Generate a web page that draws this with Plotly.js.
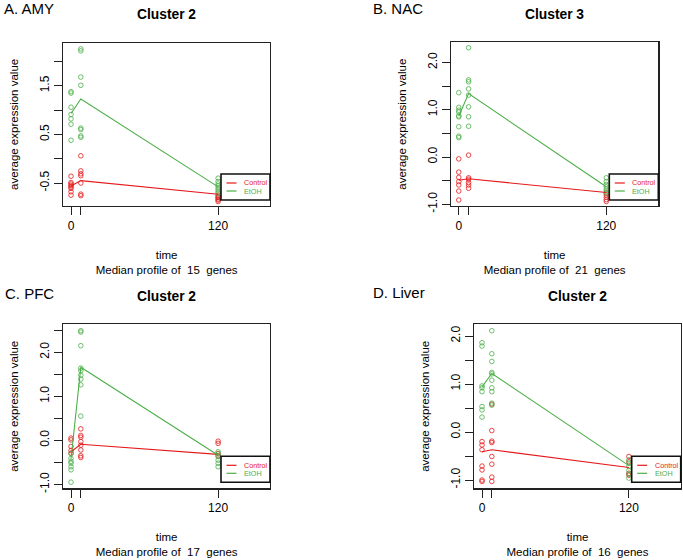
<!DOCTYPE html>
<html>
<head>
<meta charset="utf-8">
<script src="https://cdn.plot.ly/plotly-3.0.1.min.js"></script>
<style>html,body{margin:0;padding:0;background:#fff;}#chart{width:683px;height:560px;}</style>
</head>
<body>
<div id="chart"></div>
<script>
// ---------- data ----------
const timePoints = [0, 8, 120];
const timeTickText = ['0', '', '120'];
const seriesNames = ['Control', 'EtOH'];
const panelLabels = ['A. AMY', 'B. NAC', 'C. PFC', 'D. Liver'];
const clusterTitles = ['Cluster 2', 'Cluster 3', 'Cluster 2', 'Cluster 2'];
const geneCounts = [15, 21, 17, 16];

// A. AMY
const amyCtrl0 = [-0.36, -0.49, -0.52, -0.55, -0.58, -0.61, -0.68, -0.75];
const amyCtrl8 = [0.06, -0.25, -0.31, -0.35, -0.50, -0.73, -0.76];
const amyCtrl120 = [-0.75, -0.78, -0.80, -0.83, -0.85, -0.88];
const amyEtoh0 = [1.38, 1.35, 1.06, 0.91, 0.82, 0.71, 0.38];
const amyEtoh8 = [2.26, 2.22, 1.68, 1.51, 0.63, 0.60, 0.47, 0.44];
const amyEtoh120 = [-0.40, -0.47, -0.52, -0.56, -0.60, -0.64, -0.68, -0.71];
const amyCtrlMedian = [-0.56, -0.45, -0.73];
const amyEtohMedian = [0.93, 1.23, -0.58];

// B. NAC
const nacCtrl0 = [-0.04, -0.32, -0.43, -0.52, -0.59, -0.72, -0.91];
const nacCtrl8 = [0.04, -0.44, -0.47, -0.54, -0.59, -0.66];
const nacCtrl120 = [-0.76, -0.80, -0.85, -0.90, -0.94];
const nacEtoh0 = [1.36, 1.05, 0.99, 0.95, 0.87, 0.85, 0.64, 0.44, 0.41];
const nacEtoh8 = [2.31, 1.63, 1.59, 1.44, 1.31, 1.06, 0.85, 0.65];
const nacEtoh120 = [-0.44, -0.52, -0.58, -0.63, -0.68, -0.72, -0.76];
const nacCtrlMedian = [-0.49, -0.46, -0.75];
const nacEtohMedian = [0.86, 1.34, -0.63];

// C. PFC
const pfcCtrl0 = [0.05, 0.01, -0.14, -0.23, -0.29];
const pfcCtrl8 = [0.26, 0.11, 0.07, -0.03, -0.11, -0.22, -0.35, -0.39];
const pfcCtrl120 = [-0.02, -0.07, -0.30, -0.35];
const pfcEtoh0 = [-0.30, -0.41, -0.48, -0.52, -0.60, -0.67, -0.95];
const pfcEtoh8 = [2.49, 2.46, 2.15, 1.64, 1.58, 1.48, 1.39, 1.26, 0.55];
const pfcEtoh120 = [-0.26, -0.31, -0.37, -0.45, -0.52, -0.60];
const pfcCtrlMedian = [-0.26, -0.09, -0.32];
const pfcEtohMedian = [-0.42, 1.66, -0.34];

// D. Liver
const liverCtrl0 = [-0.20, -0.27, -0.37, -0.71, -0.79, -1.00, -1.03];
const liverCtrl8 = [0.58, 0.03, -0.19, -0.22, -0.51, -0.67, -0.94, -1.03];
const liverCtrl120 = [-0.51, -0.62, -0.86, -0.90];
const liverEtoh0 = [1.86, 1.79, 0.96, 0.92, 0.84, 0.53, 0.46, 0.31];
const liverEtoh8 = [2.11, 1.63, 1.47, 1.24, 1.21, 1.08, 0.92, 0.84, 0.60, 0.56];
const liverEtoh120 = [-0.58, -0.65, -0.72, -0.80, -0.88, -0.96];
const liverCtrlMedian = [-0.41, -0.37, -0.74];
const liverEtohMedian = [0.94, 1.22, -0.70];

// y tick values / labels
const yTicksA = [-0.5, 0, 0.5, 1, 1.5, 2];
const yTickTextA = ['-0.5', '', '0.5', '', '1.5', ''];
const yTicksB = [-1, -0.5, 0, 0.5, 1, 1.5, 2];
const yTickTextB = ['-1.0', '', '0.0', '', '1.0', '', '2.0'];
const yTicksC = [-1, -0.5, 0, 0.5, 1, 1.5, 2, 2.5];
const yTickTextC = ['-1.0', '', '0.0', '', '1.0', '', '2.0', ''];
const yTicksD = [-1, -0.5, 0, 0.5, 1, 1.5, 2];
const yTickTextD = ['-1.0', '', '0.0', '', '1.0', '', '2.0'];

// ---------- layout helpers ----------
const W = 683, H = 560;
const RED = '#E41A1C', GREEN = '#4DAF4A';
const fx = p => p / W;
const fy = p => 1 - p / H;

const panels = [
  {ctrl: [amyCtrl0, amyCtrl8, amyCtrl120], etoh: [amyEtoh0, amyEtoh8, amyEtoh120],
   ctrlMed: amyCtrlMedian, etohMed: amyEtohMedian, yt: yTicksA, ytt: yTickTextA,
   box: [63.3, 42.7, 270, 206], yr: [-0.973, 2.387], lab: [1.7, 8.5], ttl: 14},
  {ctrl: [nacCtrl0, nacCtrl8, nacCtrl120], etoh: [nacEtoh0, nacEtoh8, nacEtoh120],
   ctrlMed: nacCtrlMedian, etohMed: nacEtohMedian, yt: yTicksB, ytt: yTickTextB,
   box: [451, 42.3, 658.3, 206], yr: [-1.036, 2.425], lab: [370.7, 9], ttl: 14},
  {ctrl: [pfcCtrl0, pfcCtrl8, pfcCtrl120], etoh: [pfcEtoh0, pfcEtoh8, pfcEtoh120],
   ctrlMed: pfcCtrlMedian, etohMed: pfcEtohMedian, yt: yTicksC, ytt: yTickTextC,
   box: [63.3, 324.3, 270, 488.3], yr: [-1.09, 2.636], lab: [2.7, 293.3], ttl: 296},
  {ctrl: [liverCtrl0, liverCtrl8, liverCtrl120], etoh: [liverEtoh0, liverEtoh8, liverEtoh120],
   ctrlMed: liverCtrlMedian, etohMed: liverEtohMedian, yt: yTicksD, ytt: yTickTextD,
   box: [474.3, 324.3, 680.7, 488.3], yr: [-1.173, 2.244], lab: [370.7, 292.3], ttl: 296}
];

const traces = [];
const layout = {
  width: W, height: H,
  margin: {l: 0, r: 0, t: 0, b: 0},
  paper_bgcolor: '#fff', plot_bgcolor: '#fff',
  showlegend: false,
  font: {family: 'Liberation Sans, Arial, Helvetica, sans-serif', color: '#000', size: 12},
  annotations: [], shapes: []
};

function flatten(cols) {
  const xs = [], ys = [];
  cols.forEach((c, i) => c.forEach(v => { xs.push(timePoints[i]); ys.push(v); }));
  return {xs, ys};
}

panels.forEach((p, i) => {
  const n = i === 0 ? '' : String(i + 1);
  const xa = 'x' + n, ya = 'y' + n;
  const [l, t, r, b] = p.box;
  const c = flatten(p.ctrl), e = flatten(p.etoh);
  const mk = col => ({symbol: 'circle-open', size: 4.6, color: col, line: {width: 0.8, color: col}});
  traces.push({x: c.xs, y: c.ys, xaxis: xa, yaxis: ya, mode: 'markers', type: 'scatter', name: seriesNames[0], marker: mk(RED), cliponaxis: false});
  traces.push({x: e.xs, y: e.ys, xaxis: xa, yaxis: ya, mode: 'markers', type: 'scatter', name: seriesNames[1], marker: mk(GREEN), cliponaxis: false});
  traces.push({x: timePoints, y: p.ctrlMed, xaxis: xa, yaxis: ya, mode: 'lines', type: 'scatter', name: seriesNames[0], line: {color: RED, width: 1.1}});
  traces.push({x: timePoints, y: p.etohMed, xaxis: xa, yaxis: ya, mode: 'lines', type: 'scatter', name: seriesNames[1], line: {color: GREEN, width: 1.1}});

  const common = {showline: true, mirror: true, linecolor: '#222', linewidth: 1.2, ticks: 'outside', ticklen: 8,
    tickwidth: 1, tickcolor: '#222', showgrid: false, zeroline: false, tickfont: {size: 12}, fixedrange: true};
  layout['xaxis' + n] = Object.assign({}, common, {
    domain: [fx(l), fx(r)], range: [-6.3, 162.3], anchor: ya,
    tickmode: 'array', tickvals: timePoints, ticktext: timeTickText,
    title: {text: 'time<br>Median profile of\u00a0 ' + geneCounts[i] + '\u00a0 genes', font: {size: 11.5}, standoff: 19}
  });
  layout['yaxis' + n] = Object.assign({}, common, {
    domain: [fy(b), fy(t)], range: p.yr, anchor: xa,
    tickmode: 'array', tickvals: p.yt, ticktext: p.ytt, tickangle: -90,
    title: {text: 'average expression value', font: {size: 11.5}, standoff: 17}
  });

  // panel label and cluster title
  layout.annotations.push({xref: 'paper', yref: 'paper', x: fx(p.lab[0]), y: fy(p.lab[1]), xanchor: 'left', yanchor: 'middle',
    text: panelLabels[i], showarrow: false, font: {size: 15}});
  layout.annotations.push({xref: 'paper', yref: 'paper', x: fx((l + r) / 2), y: fy(p.ttl), xanchor: 'center', yanchor: 'middle',
    text: '<b>' + clusterTitles[i] + '</b>', showarrow: false, font: {size: 13.8}});

  // legend box (bottom-right, clipped at plot edge)
  const lx0 = r - 49, lx1 = r, ly0 = b - 32, ly1 = b - 6;
  layout.shapes.push({type: 'rect', xref: 'paper', yref: 'paper', x0: fx(lx0), x1: fx(lx1), y0: fy(ly1), y1: fy(ly0),
    line: {color: '#111', width: 1.6}, fillcolor: '#fff', layer: 'above'});
  const rows = [b - 23, b - 15];
  const cols = [RED, GREEN];
  rows.forEach((ry, k) => {
    layout.shapes.push({type: 'line', xref: 'paper', yref: 'paper', x0: fx(lx0 + 5.5), x1: fx(lx0 + 15.5), y0: fy(ry), y1: fy(ry),
      line: {color: cols[k], width: 1.2}, layer: 'above'});
    layout.annotations.push({xref: 'paper', yref: 'paper', x: fx(lx0 + 21), y: fy(ry), xanchor: 'left', yanchor: 'middle',
      text: seriesNames[k], showarrow: false, font: {size: 7.2, color: cols[k]}});
  });
});

Plotly.newPlot('chart', traces, layout, {staticPlot: true, displayModeBar: false});
</script>
</body>
</html>
